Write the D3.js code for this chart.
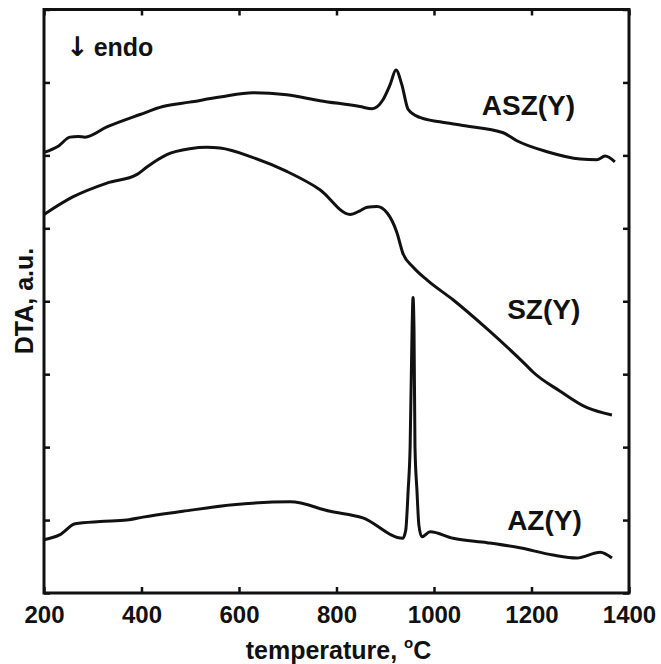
<!DOCTYPE html>
<html>
<head>
<meta charset="utf-8">
<script src="https://cdn.jsdelivr.net/npm/d3@7"></script>
<style>
  body { margin: 0; background: #fff; }
  svg text { font-family: "Liberation Sans", Arial, Helvetica, sans-serif; fill: #111; }
</style>
</head>
<body>
<div id="chart"></div>
<script>
// DTA curves, temperature in degC, signal in arbitrary units (0..8 frame)
const aszTemp = [200, 230, 253, 270, 284, 329, 397, 444, 499, 561, 629, 698, 766, 848, 873, 895, 910, 922, 934, 947, 971, 1012, 1059, 1142, 1170, 1232, 1300, 1334, 1351, 1371];
const aszVal  = [6.04, 6.13, 6.25, 6.26, 6.25, 6.39, 6.56, 6.67, 6.73, 6.80, 6.86, 6.83, 6.75, 6.67, 6.64, 6.76, 6.97, 7.17, 6.97, 6.63, 6.52, 6.46, 6.41, 6.31, 6.20, 6.05, 5.95, 5.94, 5.99, 5.91];

const szTemp = [200, 259, 329, 391, 411, 452, 499, 534, 561, 629, 698, 766, 828, 848, 863, 883, 904, 924, 936, 957, 986, 1039, 1109, 1191, 1203, 1258, 1314, 1365];
const szVal  = [5.19, 5.43, 5.62, 5.74, 5.84, 6.01, 6.09, 6.11, 6.10, 5.97, 5.78, 5.53, 5.19, 5.24, 5.29, 5.30, 5.21, 4.94, 4.66, 4.47, 4.29, 4.02, 3.62, 3.11, 3.03, 2.77, 2.54, 2.44];

const azTemp = [200, 233, 264, 315, 370, 403, 485, 588, 705, 787, 854, 936, 942, 947, 951, 955, 957, 959, 961, 965, 969, 975, 992, 1039, 1109, 1176, 1244, 1293, 1341, 1365];
const azVal  = [0.73, 0.80, 0.95, 0.98, 1.00, 1.04, 1.12, 1.21, 1.25, 1.12, 1.03, 0.75, 0.86, 1.41, 2.00, 3.61, 4.05, 3.61, 2.00, 1.41, 0.93, 0.77, 0.84, 0.75, 0.69, 0.62, 0.52, 0.48, 0.56, 0.48];

const seriesNames = ['ASZ(Y)', 'SZ(Y)', 'AZ(Y)'];
const xTicks = [200, 400, 600, 800, 1000, 1200, 1400];
const yTicks = [0, 1, 2, 3, 4, 5, 6, 7, 8];

const width = 661, height = 664;
const margin = { top: 9.5, right: 32, bottom: 71, left: 44 };
const innerW = width - margin.left - margin.right;
const innerH = height - margin.top - margin.bottom;

const svg = d3.select('#chart').append('svg')
    .attr('width', width)
    .attr('height', height);

const g = svg.append('g')
    .attr('transform', `translate(${margin.left},${margin.top})`);

const x = d3.scaleLinear().domain([200, 1400]).range([0, innerW]);
const y = d3.scaleLinear().domain([0, 8]).range([innerH, 0]);

// inward ticks on all four sides
const bottomAxis = g.append('g')
    .attr('transform', `translate(0,${innerH})`)
    .call(d3.axisBottom(x).tickValues(xTicks).tickSize(-6).tickPadding(13).tickFormat(d3.format('d')));
const topAxis = g.append('g')
    .call(d3.axisTop(x).tickValues(xTicks).tickSize(-6).tickFormat(''));
const leftAxis = g.append('g')
    .call(d3.axisLeft(y).tickValues(yTicks).tickSize(-6).tickFormat(''));
const rightAxis = g.append('g')
    .attr('transform', `translate(${innerW},0)`)
    .call(d3.axisRight(y).tickValues(yTicks).tickSize(-6).tickFormat(''));

[bottomAxis, topAxis, leftAxis, rightAxis].forEach(a => {
    a.select('.domain').remove();
    a.selectAll('.tick line').attr('stroke', '#111').attr('stroke-width', 2.5);
});
bottomAxis.selectAll('.tick text')
    .attr('font-size', 24)
    .attr('font-weight', 'bold')
    .attr('fill', '#111');

g.append('rect')
    .attr('x', 0).attr('y', 0)
    .attr('width', innerW).attr('height', innerH)
    .attr('fill', 'none')
    .attr('stroke', '#111')
    .attr('stroke-width', 3);

const line = d3.line()
    .x(d => x(d[0]))
    .y(d => y(d[1]))
    .curve(d3.curveMonotoneX);

const series = [
    d3.zip(aszTemp, aszVal),
    d3.zip(szTemp, szVal),
    d3.zip(azTemp, azVal)
];

g.selectAll('.curve')
    .data(series)
    .enter().append('path')
    .attr('class', 'curve')
    .attr('d', line)
    .attr('fill', 'none')
    .attr('stroke', '#111')
    .attr('stroke-width', 3)
    .attr('stroke-linejoin', 'round');

// series labels (anchor in data units)
const labelAt = [[1098, 6.56], [1150, 3.76], [1150, 0.86]];
g.selectAll('.series-label')
    .data(seriesNames)
    .enter().append('text')
    .attr('class', 'series-label')
    .attr('x', (d, i) => x(labelAt[i][0]))
    .attr('y', (d, i) => y(labelAt[i][1]))
    .attr('font-size', 28)
    .attr('font-weight', 'bold')
    .text(d => d);

const endo = svg.append('text')
    .attr('x', 66)
    .attr('y', 56)
    .attr('font-size', 25)
    .attr('font-weight', 'bold');
endo.append('tspan').attr('font-family', 'DejaVu Sans').attr('font-weight', 'bold').attr('font-size', 27).text('\u2193');
endo.append('tspan').attr('dx', 5).text('endo');

// axis titles
const xTitle = svg.append('text')
    .attr('x', margin.left + innerW / 2 + 2)
    .attr('y', 659)
    .attr('text-anchor', 'middle')
    .attr('font-size', 25)
    .attr('font-weight', 'bold');
xTitle.append('tspan').text('temperature, ');
xTitle.append('tspan').attr('font-size', 15).attr('dy', -11).text('o');
xTitle.append('tspan').attr('dy', 11).text('C');

svg.append('text')
    .attr('transform', 'translate(33,301) rotate(-90)')
    .attr('text-anchor', 'middle')
    .attr('font-size', 25)
    .attr('font-weight', 'bold')
    .text('DTA, a.u.');
</script>
</body>
</html>
